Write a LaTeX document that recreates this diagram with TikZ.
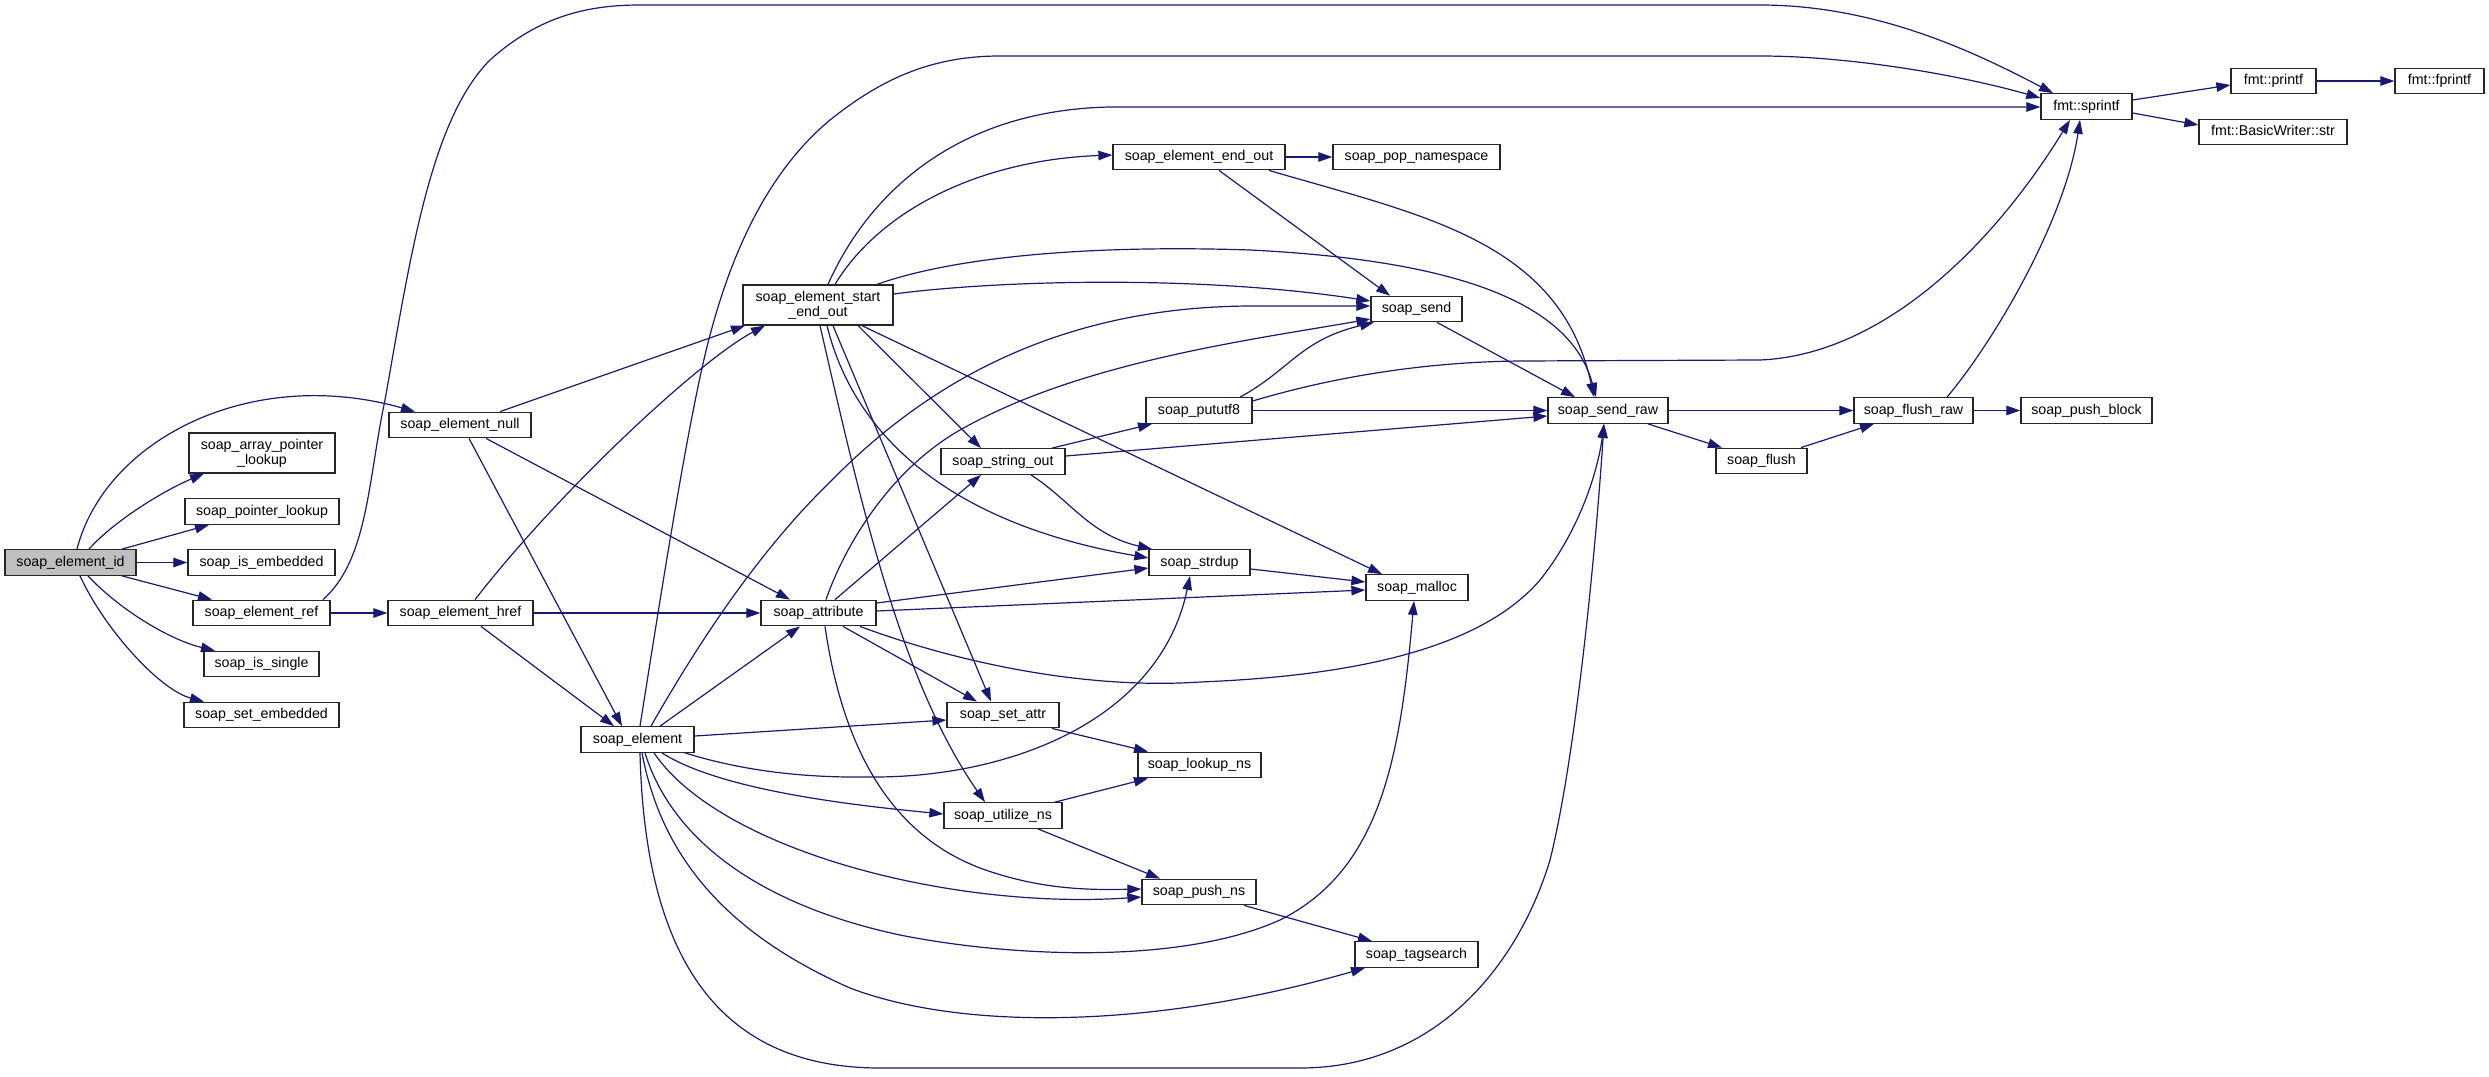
\documentclass[tikz,border=0pt]{standalone}
\usepackage{fontspec}
\setmainfont{Liberation Sans}
\usetikzlibrary{arrows.meta}
\definecolor{edgeblue}{HTML}{191970}
\definecolor{nodegray}{HTML}{BFBFBF}
\begin{document}
\begin{tikzpicture}[x=1pt,y=1pt,
  fn/.style={draw=black!85, line width=1.3pt, fill=white, minimum height=25.5pt, inner sep=0pt,
    font=\fontsize{14.2}{15}\selectfont, text height=10.5pt, text depth=3pt},
  fn2/.style={draw=black!85, line width=1.3pt, fill=white, minimum height=40pt, inner sep=0pt,
    font=\fontsize{14.2}{15}\selectfont, align=center},
  cg/.style={draw=edgeblue, line width=1.2pt, -{Triangle[length=14pt,width=9.5pt]}}]
\useasboundingbox (0,0) rectangle (2489,-1076);
% nodes
\node[fn, fill=nodegray, minimum width=131pt] (id) at (70.5,-562.5) {soap\_element\_id};
\node[fn2, minimum width=146pt] (apl) at (262,-453) {soap\_array\_pointer\\\_lookup};
\node[fn, minimum width=154pt] (pl) at (262,-511.5) {soap\_pointer\_lookup};
\node[fn, minimum width=147pt] (ise) at (261.5,-562.5) {soap\_is\_embedded};
\node[fn, minimum width=137pt] (ref) at (261.5,-613) {soap\_element\_ref};
\node[fn, minimum width=115pt] (iss) at (261.5,-664) {soap\_is\_single};
\node[fn, minimum width=155pt] (sete) at (261.5,-715) {soap\_set\_embedded};
\node[fn, minimum width=142pt] (enull) at (460,-425) {soap\_element\_null};
\node[fn, minimum width=145pt] (href) at (460.5,-613) {soap\_element\_href};
\node[fn, minimum width=113pt] (elem) at (637.5,-739.5) {soap\_element};
\node[fn2, minimum width=150pt] (seo) at (818,-305) {soap\_element\_start\\\_end\_out};
\node[fn, minimum width=172pt] (eeo) at (1199,-157) {soap\_element\_end\_out};
\node[fn, minimum width=167pt] (popns) at (1416.5,-157) {soap\_pop\_namespace};
\node[fn, minimum width=91pt] (send) at (1416.5,-309) {soap\_send};
\node[fn, minimum width=106pt] (pututf8) at (1199,-410.5) {soap\_pututf8};
\node[fn, minimum width=124pt] (strout) at (1003,-461.5) {soap\_string\_out};
\node[fn, minimum width=115pt] (attr) at (818.5,-613) {soap\_attribute};
\node[fn, minimum width=101pt] (strdup) at (1199.5,-562.5) {soap\_strdup};
\node[fn, minimum width=102pt] (malloc) at (1417,-587.5) {soap\_malloc};
\node[fn, minimum width=112pt] (setattr) at (1003,-715) {soap\_set\_attr};
\node[fn, minimum width=123pt] (lookupns) at (1199.5,-765) {soap\_lookup\_ns};
\node[fn, minimum width=118pt] (utilize) at (1003,-815.5) {soap\_utilize\_ns};
\node[fn, minimum width=114pt] (pushns) at (1199,-892) {soap\_push\_ns};
\node[fn, minimum width=123pt] (tagsearch) at (1416.5,-954.5) {soap\_tagsearch};
\node[fn, minimum width=120pt] (sendraw) at (1608,-410.5) {soap\_send\_raw};
\node[fn, minimum width=91pt] (flush) at (1761.5,-461) {soap\_flush};
\node[fn, minimum width=119pt] (flushraw) at (1913.5,-410.5) {soap\_flush\_raw};
\node[fn, minimum width=131pt] (pushblock) at (2086.5,-410.5) {soap\_push\_block};
\node[fn, minimum width=91pt] (sprintf) at (2086.5,-106.5) {fmt::sprintf};
\node[fn, minimum width=85pt] (printf) at (2273.5,-81) {fmt::printf};
\node[fn, minimum width=89pt] (fprintf) at (2439.5,-81) {fmt::fprintf};
\node[fn, minimum width=148pt] (bwstr) at (2273,-132) {fmt::BasicWriter::str};
% soap_element_id
\draw[cg] (77,0 |- id.north) .. controls (105,-440) and (250,-365) .. (415,0 |- enull.north);
\draw[cg] (89,0 |- id.north) .. controls (115,-520) and (165,-490) .. (204,0 |- apl.south);
\draw[cg] (122,0 |- id.north) -- (209,0 |- pl.south);
\draw[cg] (id) -- (ise);
\draw[cg] (122,0 |- id.south) -- (212,0 |- ref.north);
\draw[cg] (88,0 |- id.south) .. controls (120,-610) and (170,-640) .. (215,0 |- iss.north);
\draw[cg] (80,0 |- id.south) .. controls (105,-630) and (160,-690) .. (204,0 |- sete.north);
% soap_element_ref
\draw[cg] (ref) -- (href);
\draw[cg] (323,0 |- ref.north) .. controls (368,-560) and (368,-480) .. (385,-400) .. controls (410,-260) and (430,-120) .. (490,-60) .. controls (540,-15) and (590,-5) .. (640,-5) -- (1760,-5) .. controls (1880,-5) and (1980,-55) .. (2053,0 |- sprintf.north);
% soap_element_null
\draw[cg] (500,0 |- enull.north) -- (745,0 |- seo.south);
\draw[cg] (486,0 |- enull.south) -- (790,0 |- attr.north);
\draw[cg] (469,0 |- enull.south) -- (622,0 |- elem.north);
% soap_element_href
\draw[cg] (475,0 |- href.north) .. controls (560,-490) and (700,-360) .. (765,0 |- seo.south);
\draw[cg] (href) -- (attr);
\draw[cg] (481,0 |- href.south) -- (614,0 |- elem.north);
% soap_element
\draw[cg] (660,0 |- elem.north) -- (800,0 |- attr.south);
\draw[cg] (640,0 |- elem.north) .. controls (660,-600) and (685,-440) .. (705,-355) .. controls (730,-250) and (770,-170) .. (830,-120) .. controls (880,-80) and (930,-56) .. (1000,-56) -- (1760,-56) .. controls (1850,-56) and (1960,-75) .. (sprintf.west |- 0,-98);
\draw[cg] (651,0 |- elem.north) .. controls (700,-640) and (760,-550) .. (830,-482) .. controls (920,-390) and (1050,-307) .. (1250,-306) -- (send.west |- 0,-306);
\draw[cg] (685,0 |- elem.south) .. controls (740,-770) and (800,-778) .. (870,-777) .. controls (1010,-778) and (1160,-720) .. (1190,0 |- strdup.south);
\draw[cg] (elem.east |- 0,-736) -- (setattr.west |- 0,-720);
\draw[cg] (662,0 |- elem.south) .. controls (720,-790) and (850,-805) .. (utilize.west |- 0,-814);
\draw[cg] (654,0 |- elem.south) .. controls (720,-850) and (950,-910) .. (pushns.west |- 0,-897);
\draw[cg] (645,0 |- elem.south) .. controls (672,-840) and (760,-905) .. (900,-935) .. controls (1010,-957) and (1180,-965) .. (1280,-920) .. controls (1380,-870) and (1400,-760) .. (1414,0 |- malloc.south);
\draw[cg] (642,0 |- elem.south) .. controls (662,-860) and (730,-935) .. (850,-988) .. controls (960,-1030) and (1150,-1030) .. (1365,0 |- tagsearch.south);
\draw[cg] (640,0 |- elem.south) .. controls (645,-960) and (720,-1068) .. (880,-1068) -- (1300,-1068) .. controls (1440,-1068) and (1520,-960) .. (1550,-860) .. controls (1575,-760) and (1595,-560) .. (1604,0 |- sendraw.south);
% soap_attribute
\draw[cg] (835,0 |- attr.north) -- (981,0 |- strout.south);
\draw[cg] (826,0 |- attr.north) .. controls (845,-545) and (890,-470) .. (960,-430) .. controls (1080,-362) and (1250,-340) .. (send.west |- 0,-319);
\draw[cg] (attr.east |- 0,-603) -- (strdup.west |- 0,-568);
\draw[cg] (attr.east |- 0,-611) -- (malloc.west |- 0,-590);
\draw[cg] (860,0 |- attr.south) .. controls (950,-660) and (1080,-690) .. (1200,-682) .. controls (1350,-676) and (1480,-650) .. (1540,-580) .. controls (1580,-530) and (1598,-470) .. (1604,0 |- sendraw.south);
\draw[cg] (843,0 |- attr.south) -- (977,0 |- setattr.north);
\draw[cg] (825,0 |- attr.south) .. controls (840,-730) and (880,-830) .. (980,-868) .. controls (1040,-890) and (1090,-890) .. (pushns.west |- 0,-889);
% soap_element_start_end_out
\draw[cg] (828,0 |- seo.north) .. controls (870,-190) and (960,-110) .. (1110,-107) -- (sprintf.west |- 0,-107);
\draw[cg] (835,0 |- seo.north) .. controls (880,-210) and (980,-160) .. (eeo.west |- 0,-155);
\draw[cg] (seo.east |- 0,-294) .. controls (1000,-280) and (1200,-275) .. (send.west |- 0,-301);
\draw[cg] (877,0 |- seo.north) .. controls (960,-255) and (1100,-245) .. (1250,-250) .. controls (1450,-260) and (1570,-300) .. (1596,0 |- sendraw.north);
\draw[cg] (858,0 |- seo.south) -- (981,0 |- strout.north);
\draw[cg] (827,0 |- seo.south) .. controls (850,-420) and (930,-520) .. (strdup.west |- 0,-558);
\draw[cg] (862,0 |- seo.south) -- (1382,0 |- malloc.north);
\draw[cg] (833,0 |- seo.south) -- (991,0 |- setattr.north);
\draw[cg] (820,0 |- seo.south) .. controls (860,-500) and (900,-680) .. (985,0 |- utilize.north);
% soap_element_end_out
\draw[cg] (eeo) -- (popns);
\draw[cg] (1219,0 |- eeo.south) -- (1390,0 |- send.north);
\draw[cg] (1269,0 |- eeo.south) .. controls (1420,-215) and (1560,-240) .. (1594,0 |- sendraw.north);
% soap_send
\draw[cg] (1437,0 |- send.south) -- (1575,0 |- sendraw.north);
% soap_pututf8
\draw[cg] (1240,0 |- pututf8.north) .. controls (1290,-370) and (1300,-340) .. (1374,0 |- send.south);
\draw[cg] (pututf8) -- (sendraw);
\draw[cg] (pututf8.east |- 0,-401) .. controls (1330,-378) and (1420,-362) .. (1520,-361) -- (1760,-360) .. controls (1880,-355) and (1990,-250) .. (2070,0 |- sprintf.south);
% soap_string_out
\draw[cg] (1052,0 |- strout.north) -- (1152,0 |- pututf8.south);
\draw[cg] (strout.east |- 0,-456) -- (sendraw.west |- 0,-416);
\draw[cg] (1031,0 |- strout.south) .. controls (1070,-500) and (1090,-535) .. (1152,0 |- strdup.north);
% others
\draw[cg] (strdup.east |- 0,-569) -- (malloc.west |- 0,-582);
\draw[cg] (1052,0 |- setattr.south) -- (1148,0 |- lookupns.north);
\draw[cg] (1055,0 |- utilize.north) -- (1148,0 |- lookupns.south);
\draw[cg] (1038,0 |- utilize.south) -- (1160,0 |- pushns.north);
\draw[cg] (1244,0 |- pushns.south) -- (1372,0 |- tagsearch.north);
\draw[cg] (sendraw) -- (flushraw);
\draw[cg] (1648,0 |- sendraw.south) -- (1722,0 |- flush.north);
\draw[cg] (1801,0 |- flush.north) -- (1874,0 |- flushraw.south);
\draw[cg] (flushraw) -- (pushblock);
\draw[cg] (1947,0 |- flushraw.north) .. controls (1995,-340) and (2065,-220) .. (2080,0 |- sprintf.south);
\draw[cg] (sprintf.east |- 0,-100) -- (printf.west |- 0,-85);
\draw[cg] (sprintf.east |- 0,-113) -- (bwstr.west |- 0,-125);
\draw[cg] (printf) -- (fprintf);
\end{tikzpicture}
\end{document}
